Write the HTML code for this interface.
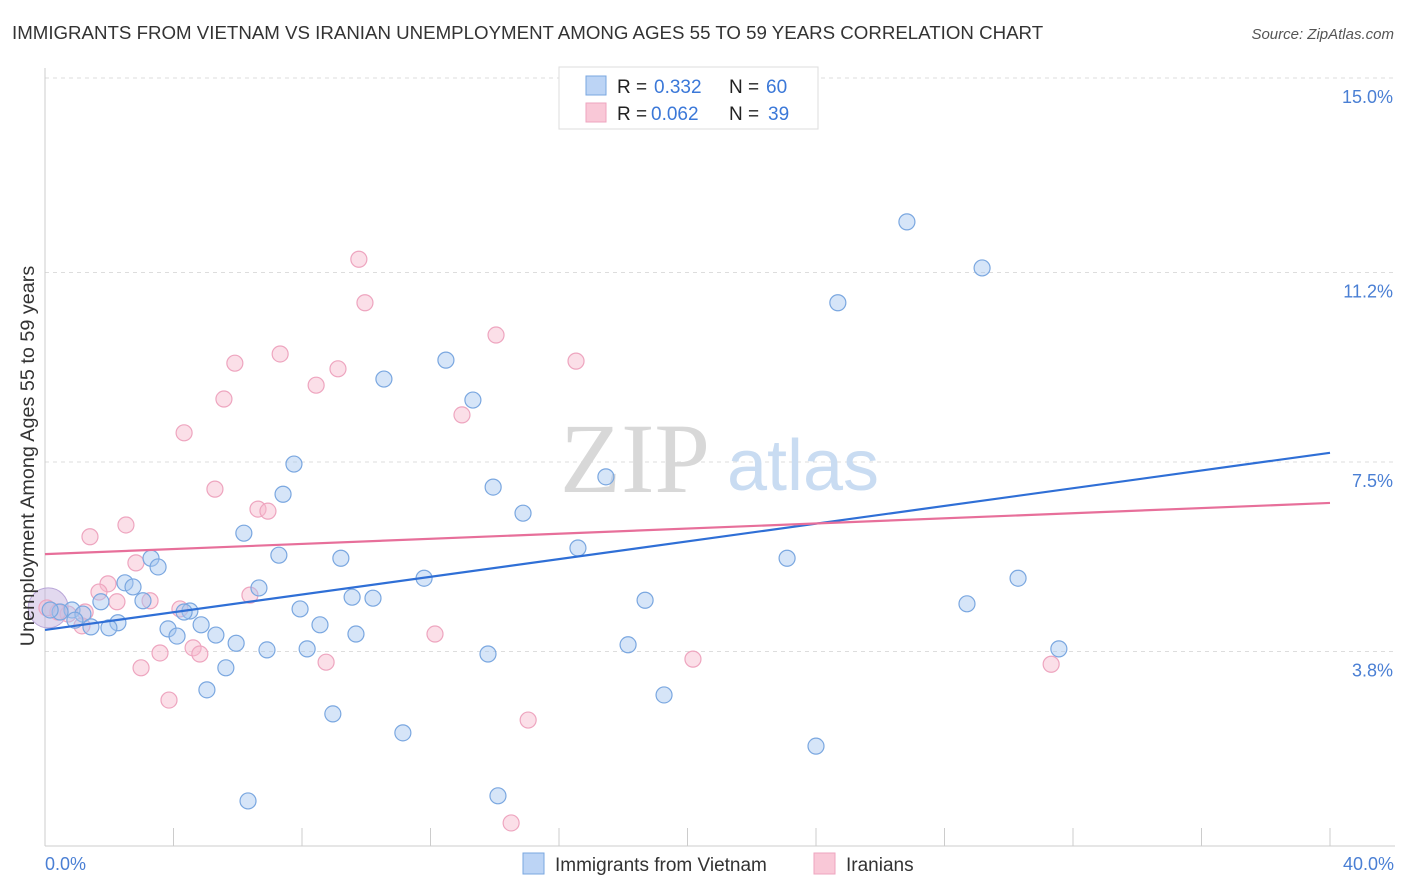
<!DOCTYPE html>
<html><head><meta charset="utf-8"><style>
body{margin:0;background:#fff;font-family:"Liberation Sans",sans-serif;}
svg{display:block}
</style></head><body>
<svg width="1406" height="892" viewBox="0 0 1406 892">
<text x="12" y="39" font-size="18.7" fill="#333">IMMIGRANTS FROM VIETNAM VS IRANIAN UNEMPLOYMENT AMONG AGES 55 TO 59 YEARS CORRELATION CHART</text>
<text x="1394" y="39" font-size="15" fill="#555" font-style="italic" text-anchor="end">Source: ZipAtlas.com</text>
<g id="grid"></g>
<g>
<text x="635" y="492" font-size="100" font-family="Liberation Serif,serif" fill="#d8d8d8" text-anchor="middle">ZIP</text>
<text x="803" y="490" font-size="72" fill="#c9dcf2" text-anchor="middle">atlas</text>
</g>
<g id="marks"></g>
<text transform="translate(34,456) rotate(-90)" font-size="19.8" fill="#333" text-anchor="middle">Unemployment Among Ages 55 to 59 years</text>
<text x="45" y="870" font-size="18" fill="#4a7fd4">0.0%</text>
<text x="1394" y="870" font-size="18" fill="#4a7fd4" text-anchor="end">40.0%</text>
<g>
<rect x="559" y="67" width="259" height="62" fill="#fff" stroke="#ddd"/>
<rect x="586" y="76" width="20" height="19" fill="#bcd4f5" stroke="#7aa7e0"/>
<rect x="586" y="103" width="20" height="19" fill="#f9c8d7" stroke="#eea5bf"/>
<g font-size="19" fill="#222">
<text x="617" y="93">R =</text><text x="654" y="93" fill="#3b78d8">0.332</text><text x="729" y="93">N =</text><text x="766" y="93" fill="#3b78d8">60</text></g>
<g font-size="19" fill="#222">
<text x="617" y="120">R =</text><text x="651" y="120" fill="#3b78d8">0.062</text><text x="729" y="120">N =</text><text x="768" y="120" fill="#3b78d8">39</text></g>
</g>
<g>
<rect x="523" y="853" width="21" height="21" fill="#bcd4f5" stroke="#7aa7e0"/>
<text x="555" y="871" font-size="19" fill="#333">Immigrants from Vietnam</text>
<rect x="814" y="853" width="21" height="21" fill="#f9c8d7" stroke="#eea5bf"/>
<text x="846" y="871" font-size="19" fill="#333">Iranians</text>
</g>
</svg>
<script>
const yTicks=[15.0,11.2,7.5,3.8];
const yTickLabels=["15.0%","11.2%","7.5%","3.8%"];
const blueX=[26.83,29.17,24.68,12.48,10.55,13.32,7.75,7.41,13.95,17.46,14.88,6.19,16.59,23.10,7.28,9.21,3.30,3.52,30.29,11.80,2.49,2.74,6.66,9.56,10.21,1.74,3.05,18.68,28.70,7.94,4.51,4.33,0.84,1.18,0.47,2.27,4.86,8.56,3.83,1.43,1.99,4.11,5.32,9.68,5.95,18.15,8.16,6.91,31.56,13.79,5.63,5.04,19.27,8.96,11.14,24.00,6.32,14.10,0.16,0.93];
const blueY=[12.19,11.29,10.61,9.49,9.12,8.71,7.46,6.87,7.01,7.21,6.50,6.11,5.82,5.62,5.68,5.62,5.62,5.45,5.23,5.23,5.14,5.06,5.04,4.86,4.84,4.77,4.79,4.80,4.73,4.63,4.59,4.57,4.61,4.53,4.57,4.36,4.32,4.32,4.24,4.28,4.26,4.10,4.12,4.14,3.96,3.93,3.85,3.83,3.85,3.75,3.48,3.05,2.95,2.58,2.21,1.95,0.88,0.98,4.61,4.41];
const pinkX=[9.77,9.96,14.04,7.32,16.53,5.91,9.12,8.44,5.57,12.98,4.33,5.29,6.63,6.94,2.52,1.40,2.83,1.96,1.68,2.24,3.27,4.20,6.38,1.25,0.72,12.14,4.61,3.58,4.82,8.75,20.17,31.32,2.99,3.86,15.04,14.51,1.15,0.40,0.06];
const pinkY=[11.46,10.61,9.98,9.61,9.47,9.43,9.32,9.00,8.73,8.42,8.07,6.97,6.58,6.54,6.27,6.04,5.53,5.12,4.96,4.77,4.79,4.63,4.90,4.57,4.53,4.14,3.87,3.77,3.75,3.59,3.65,3.55,3.48,2.85,2.46,0.45,4.30,4.57,4.65];
const blueTrend=[4.22,7.68];
const pinkTrend=[5.70,6.70];
const NS="http://www.w3.org/2000/svg";
const sx=v=>45+v/40*1285;
const sy=v=>78+(15-v)*51.2;
function mk(tag,attrs,parent){const e=document.createElementNS(NS,tag);for(const k in attrs)e.setAttribute(k,attrs[k]);parent.appendChild(e);return e;}
const grid=document.getElementById('grid'),marks=document.getElementById('marks');
yTicks.forEach((t,i)=>{
 const l=mk('line',{x1:45,x2:1395,y1:sy(t),y2:sy(t),stroke:'#ddd','stroke-dasharray':'4,4'},grid);
 
 
 const tx=mk('text',{x:1393,y:sy(t)+25,'font-size':18,fill:'#4a7fd4','text-anchor':'end'},grid);
 tx.textContent=yTickLabels[i];
 
 
});
const ax=mk('line',{x1:45,x2:45,y1:68,y2:846,stroke:'#ccc'},grid);


const bx=mk('line',{x1:45,x2:1395,y1:846,y2:846,stroke:'#ccc'},grid);


for(let i=1;i<=10;i++){const t=mk('line',{x1:sx(i*4),x2:sx(i*4),y1:828,y2:846,stroke:'#ccc'},grid);
 
 }
const bb=mk('circle',{cx:sx(0.1),cy:sy(4.65),r:20,fill:'rgba(190,170,220,0.45)',stroke:'#b9a6d8'},marks);


pinkX.forEach((x,i)=>{const c=mk('circle',{cx:sx(x),cy:sy(pinkY[i]),r:8,fill:'rgba(246,185,205,0.45)',stroke:'#eea5bf','stroke-width':1.2},marks);
 
 });
blueX.forEach((x,i)=>{const c=mk('circle',{cx:sx(x),cy:sy(blueY[i]),r:8,fill:'rgba(165,198,240,0.45)',stroke:'#7aa7e0','stroke-width':1.2},marks);
 
 });
const bl=mk('line',{x1:sx(0),x2:sx(40),y1:sy(blueTrend[0]),y2:sy(blueTrend[1]),stroke:'#2f6fd6','stroke-width':2.2},marks);


const pl=mk('line',{x1:sx(0),x2:sx(40),y1:sy(pinkTrend[0]),y2:sy(pinkTrend[1]),stroke:'#e76f9a','stroke-width':2.2},marks);


</script>
</body></html>
